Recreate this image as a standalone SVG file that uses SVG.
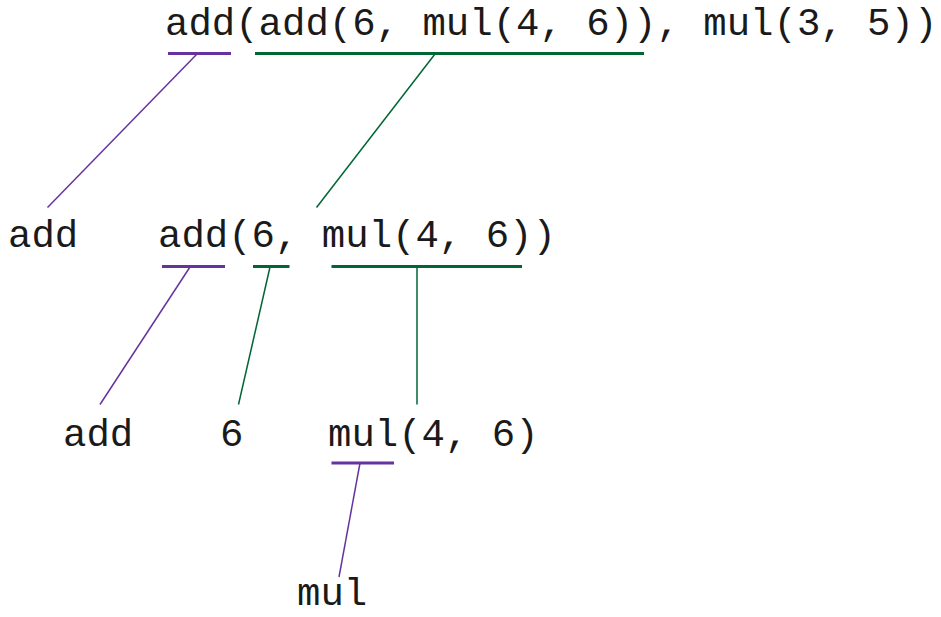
<svg xmlns="http://www.w3.org/2000/svg" width="941" height="617" viewBox="0 0 941 617">
<style>
text{font-family:"Liberation Mono","Courier New",monospace;font-size:39px;fill:#1a1a1a;white-space:pre}
.p{stroke:#66339e;fill:none}
.g{stroke:#006633;fill:none}
.bar{stroke-width:3}
.ln{stroke-width:1.5}
</style>
<rect width="941" height="617" fill="#fff"/>
<g id="n0"><text x="165" y="35">add(add(6, mul(4, 6)), mul(3, 5))</text></g>
<g id="n1"><text x="8" y="247">add</text></g>
<g id="n2"><text x="158" y="247">add(6, mul(4, 6))</text></g>
<g id="n3"><text x="63" y="446">add</text></g>
<g id="n4"><text x="220" y="446">6</text></g>
<g id="n5"><text x="328" y="446">mul(4, 6)</text></g>
<g id="n6"><text x="297" y="605">mul</text></g>
<g id="connectors">
<line class="p bar" x1="168" y1="53.5" x2="231" y2="53.5"/>
<line class="g bar" x1="255" y1="53.5" x2="644" y2="53.5"/>
<line class="p ln" x1="197" y1="54" x2="47.5" y2="207.5"/>
<line class="g ln" x1="435" y1="54" x2="316.5" y2="207.5"/>
<line class="p bar" x1="162" y1="266.5" x2="225" y2="266.5"/>
<line class="g bar" x1="253" y1="266.5" x2="289.5" y2="266.5"/>
<line class="g bar" x1="331.5" y1="266.5" x2="522" y2="266.5"/>
<line class="p ln" x1="190" y1="267" x2="100" y2="404.5"/>
<line class="g ln" x1="270" y1="267" x2="238.5" y2="404.5"/>
<line class="g ln" x1="417" y1="267" x2="417" y2="404.5"/>
<line class="p bar" x1="331.5" y1="463" x2="394" y2="463"/>
<line class="p ln" x1="360" y1="463" x2="339" y2="577"/>
</g>
</svg>
